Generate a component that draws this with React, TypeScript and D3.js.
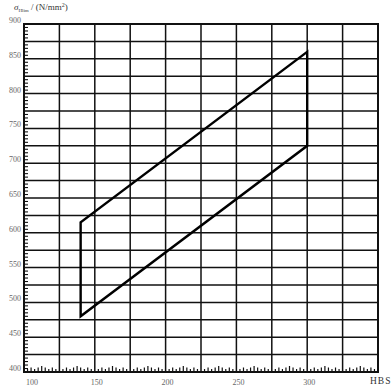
import React from "react";
import * as d3 from "d3";

const xTicks = [100, 150, 200, 250, 300];
const yTicks = [400, 450, 500, 550, 600, 650, 700, 750, 800, 850, 900];
const xGrid = [100, 125, 150, 175, 200, 225, 250, 275, 300, 325, 350];
const yGrid = d3.range(400, 901, 25);
// region outline (HBS, sigma_Hlim)
const regionHBS = [140, 140, 300, 300];
const regionSigma = [480, 615, 860, 725];

export default function App() {
  const W = 392, H = 392;
  const x = d3.scaleLinear().domain([100, 350]).range([24, 378]);
  const y = d3.scaleLinear().domain([400, 900]).range([372, 24]);
  const pts: [number, number][] = regionHBS.map((h, i) => [x(h), y(regionSigma[i])]);
  const line = d3.line().curve(d3.curveLinearClosed);
  const bottomTicks = d3.range(100, 350.01, 2.5);
  const leftTicks = d3.range(400, 900.01, 5);
  const font = "'Liberation Serif', 'DejaVu Serif', serif";
  return (
    <svg width={W} height={H} style={{ position: "absolute", left: 0, top: 0, background: "#fff" }}>
      <rect x={0} y={0} width={W} height={H} fill="#fff" />
      {xGrid.map((v) => (
        <line key={"vx" + v} x1={x(v)} x2={x(v)} y1={y(400)} y2={y(900)} stroke="#111" strokeWidth={1.5} />
      ))}
      {yGrid.map((v) => (
        <line key={"hy" + v} x1={x(100)} x2={x(350)} y1={y(v)} y2={y(v)} stroke="#111" strokeWidth={1.5} />
      ))}
      {bottomTicks.map((v, i) => {
        const len = i % 10 === 0 ? 0 : i % 5 === 0 ? 6 : v % 5 === 0 ? 4.5 : 3;
        return len ? (
          <line key={"bt" + i} x1={x(v)} x2={x(v)} y1={y(400)} y2={y(400) - len} stroke="#111" strokeWidth={1.2} />
        ) : null;
      })}
      {leftTicks.map((v, i) => (
        <line key={"lt" + i} x1={x(100)} x2={x(100) + (v % 25 === 0 ? 0 : 4)} y1={y(v)} y2={y(v)} stroke="#111" strokeWidth={1.1} />
      ))}
      <rect x={x(100)} y={y(900)} width={x(350) - x(100)} height={y(400) - y(900)} fill="none" stroke="#111" strokeWidth={2} />
      <path d={line(pts) || ""} fill="none" stroke="#000" strokeWidth={2.4} strokeLinejoin="miter" />
      {yTicks.map((v) => (
        <text key={"yl" + v} x={21} y={y(v) - 1} fontSize={8} fontFamily={font} fill="#666" textAnchor="end">
          {v}
        </text>
      ))}
      {xTicks.map((v) => (
        <text key={"xl" + v} x={v === 100 ? x(v) + 8 : x(v) + 2} y={385} fontSize={8} fontFamily={font} fill="#666" textAnchor="middle">
          {v}
        </text>
      ))}
      <text x={370} y={384} fontSize={9.5} fontFamily={font} fill="#333" letterSpacing={1}>
        HBS
      </text>
      <text x={14} y={10} fontFamily={font} fill="#333">
        <tspan fontSize={9} fontStyle="italic">σ</tspan>
        <tspan fontSize={5} dy={2}>Hlim</tspan>
        <tspan fontSize={9} dy={-2}> / (N/mm</tspan>
        <tspan fontSize={6} dy={-3}>2</tspan>
        <tspan fontSize={9} dy={3}>)</tspan>
      </text>
    </svg>
  );
}
